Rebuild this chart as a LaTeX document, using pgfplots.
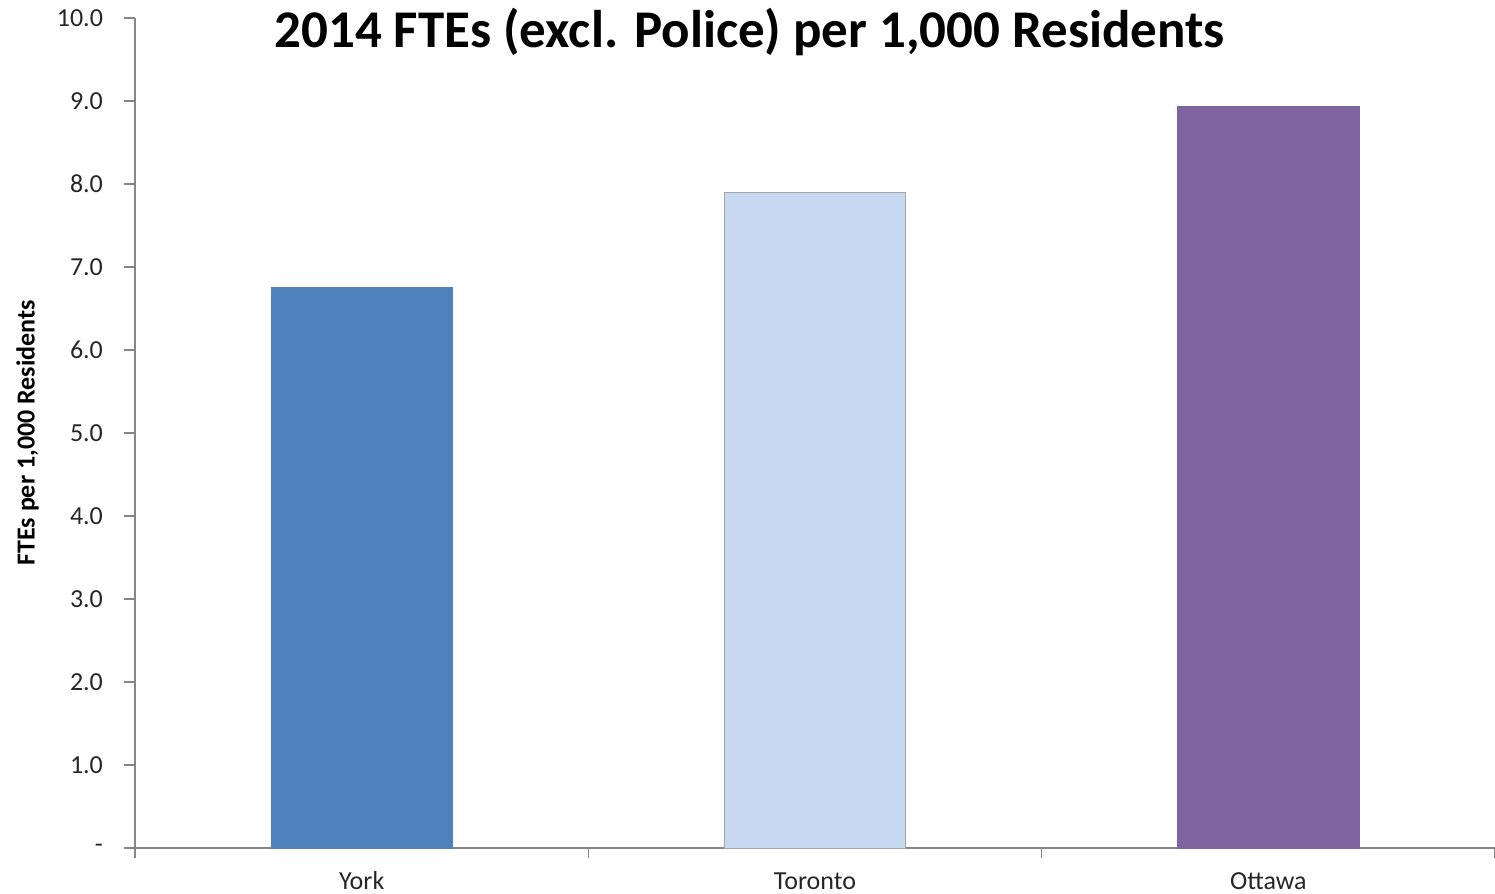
\documentclass[border=0pt]{standalone}
\usepackage{pgfplots}
\pgfplotsset{compat=1.18}
\usepackage{fontspec}
\setmainfont{Carlito}
\definecolor{york}{HTML}{4F81BD}
\definecolor{toronto}{HTML}{C6D9F1}
\definecolor{ottawa}{HTML}{8064A2}
\definecolor{axgray}{HTML}{868686}
\begin{document}
\begin{tikzpicture}[x=1pt,y=1pt]
\useasboundingbox (0,0) rectangle (747.5,447);
\begin{axis}[
  at={(67.5pt,23pt)}, anchor=south west,
  scale only axis, width=680pt, height=415pt,
  xmin=-0.5, xmax=2.5, ymin=0, ymax=10,
  axis x line=bottom, axis y line=left,
  axis line style={axgray, line width=0.8pt, -},
  xtick={0,1,2}, xticklabels={York,Toronto,Ottawa},
  major x tick style={draw=none},
  minor xtick={-0.5,0.5,1.5,2.5},
  minor x tick style={axgray, line width=0.8pt},
  minor tick length=5pt,
  xtick align=outside,
  ytick={0,1,...,10},
  yticklabels={-,1.0,2.0,3.0,4.0,5.0,6.0,7.0,8.0,9.0,10.0},
  ytick align=outside,
  major tick length=5.5pt,
  major y tick style={axgray, line width=0.8pt},
  /pgf/number format/assume math mode=true,
  ticklabel style={font=\fontsize{13}{15}\selectfont, text=black!85},
  yticklabel style={xshift=-7pt},
  xticklabel style={text height=9pt, text depth=0pt, yshift=-2.5pt},
  ylabel={\textbf{FTEs per 1,000 Residents}},
  ylabel style={at={(rel axis cs:-0.079,0.5)}, anchor=center, font=\fontsize{13}{15}\selectfont},
  clip=false,
  bar width=0.4,
]
\addplot[ybar, bar shift=0, fill=york, draw=york] coordinates {(0,6.75)};
\addplot[ybar, bar shift=0, fill=toronto, draw=black!35] coordinates {(1,7.90)};
\addplot[ybar, bar shift=0, fill=ottawa, draw=ottawa] coordinates {(2,8.94)};
\node[font=\bfseries\fontsize{26.5}{30}\selectfont] at (rel axis cs:0.452,0.983) {2014 FTEs (excl. Police) per 1,000 Residents};
\end{axis}
\end{tikzpicture}
\end{document}
